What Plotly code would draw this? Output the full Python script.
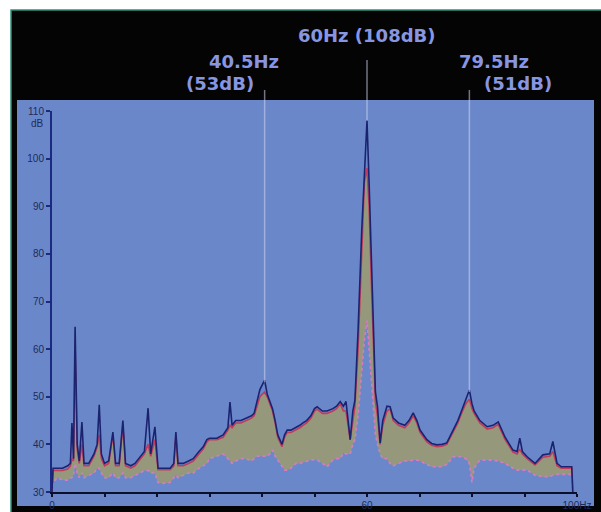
import plotly.graph_objects as go

# ---- data ----
freq_hz = [0.0, 0.2, 1.0, 2.0, 3.0, 3.5, 3.8, 4.1, 4.4, 4.8, 5.2, 5.7, 6.1, 7.0, 8.0, 8.6, 9.0, 9.4,
           10.0, 10.8, 11.6, 12.1, 12.8, 13.5, 14.0, 15.0, 15.8, 16.8, 17.6, 18.3, 18.8, 19.6, 20.2,
           21.0, 22.5, 23.2, 23.6, 24.0, 25.0, 26.0, 26.9, 28.0, 28.8, 29.5, 30.0, 31.4, 32.6, 33.5,
           33.9, 34.3, 35.0, 36.0, 37.0, 38.0, 38.5, 39.0, 39.6, 40.5, 41.0, 41.5, 42.0, 42.5, 43.0,
           43.4, 43.8, 44.3, 44.8, 45.5, 46.5, 47.2, 47.8, 48.5, 49.3, 50.0, 50.5, 51.5, 52.4, 53.5,
           54.2, 54.9, 55.5, 56.0, 56.8, 57.3, 57.7, 58.3, 59.0, 59.5, 60.0, 60.4, 60.8, 61.2, 61.6,
           62.0, 62.5, 63.0, 63.8, 64.4, 65.0, 66.0, 67.2, 68.0, 68.8, 69.5, 70.1, 71.4, 72.3, 73.3,
           74.3, 75.2, 76.4, 77.3, 78.0, 78.8, 79.5, 80.0, 80.4, 81.5, 82.9, 84.0, 85.0, 86.3, 87.8,
           88.6, 89.1, 89.6, 90.5, 92.0, 93.5, 94.8, 95.4, 96.2, 97.0, 99.0, 99.2]

peak_hold_db = [30, 35, 35, 35, 35.5, 36, 44.5, 37, 64.7, 40, 36.5, 44.7, 36, 36, 38, 40, 48.3, 38,
                36, 36.5, 42.6, 36, 36, 45, 36, 35.5, 36, 37.5, 38.5, 47.6, 38, 43.7, 35,
                35, 35, 36, 42.6, 36, 36, 36.5, 37, 38.5, 39.5, 41, 41.3, 41.3, 42, 43.5,
                48.9, 44, 45, 45, 45.5, 46, 46.5, 48.5, 51.5, 53.5, 50.5, 49, 47.5, 45, 42,
                41, 40, 42, 43, 43, 43.5, 44, 44.5, 45, 46, 47.5, 47.9, 47, 47, 47.5,
                48, 49, 48, 49, 41, 47, 49.3, 64, 85, 98, 108, 95, 80, 66, 51,
                48, 40.3, 45, 48, 47.9, 45.5, 44.5, 44, 45, 46.6, 45, 43, 41, 40.2, 39.9,
                40, 40.3, 43, 45, 47, 49.5, 51.4, 48.5, 47, 45, 43.7, 44, 44.7, 41.5, 38.8,
                38.5, 41.3, 38.5, 37.4, 36, 37.8, 38, 40.6, 36, 35.3, 35.3, 30]

average_db = [30, 34.5, 34.5, 34.5, 34.8, 35.5, 37, 36.5, 60, 39, 36, 40, 35.5, 35.5, 37.5, 39.5, 42, 37,
              35.5, 36, 42, 35.5, 35.5, 44, 35.5, 35, 35.5, 37, 38, 40, 37.5, 41, 34.7,
              34.7, 34.7, 35.5, 42, 35.5, 35.5, 36, 36.5, 38, 39, 40.5, 41, 41, 41.5, 43,
              44, 43.5, 44.5, 44.5, 45, 45.5, 46, 48, 50, 51, 50, 48.5, 47, 44.5, 41.5,
              40.5, 39.5, 41.5, 42.5, 42.5, 43, 43.5, 44, 44.5, 45.5, 47, 47.4, 46.5, 46.5, 47,
              47.5, 48.5, 47, 47, 41, 45, 48, 60, 80, 95, 98, 90, 75, 62, 49,
              46, 40, 44, 47, 47.4, 45, 44, 43.5, 44.5, 46, 44.5, 42.5, 40.5, 39.8, 39.5,
              39.6, 40, 42.5, 44.5, 46.5, 48.5, 49.5, 47.5, 46.5, 44.5, 43.2, 43.5, 44.2, 41, 38.4,
              38, 39, 38, 37, 35.7, 37.3, 37.5, 38.5, 35.5, 35, 35, 30]

minimum_db = [30, 32, 33, 32.5, 32.5, 33, 33, 33.5, 36, 34, 33, 34, 33, 33.5, 34, 35, 35, 34,
              33, 33, 34, 33, 33, 34, 33, 33, 33.5, 34, 34.5, 34.5, 34, 34, 32,
              31.8, 32, 33, 33.5, 33, 33.5, 34, 34, 35, 35.5, 36, 37, 37.5, 38, 37,
              36.5, 36, 36.5, 37, 37, 36.5, 37, 37.5, 37.5, 37.5, 37.5, 38, 38.8, 37.5, 36.7,
              35.8, 35.3, 34.6, 34.6, 35, 36, 36, 36.2, 36.5, 36.7, 36.8, 36.7, 36, 35.3, 36.7,
              37, 37, 38.2, 38, 38, 40, 41, 46, 55, 62, 66, 60, 52, 46, 42,
              40, 38, 37, 37, 36, 35.5, 36, 36.5, 36.5, 36.7, 36.7, 36.5, 35.8, 35.3, 35.3,
              35.3, 35.8, 37.4, 37.4, 37.4, 37, 36, 32, 35, 36.7, 36.7, 36.7, 36.5, 36, 35,
              34.6, 34.6, 34.6, 34.6, 33.5, 33.2, 33.2, 33.5, 33.7, 33.7, 33.7, 30]

x_tick_vals = [0, 10, 20, 30, 40, 50, 60, 70, 80, 90, 100]
x_tick_text = ["0", "", "", "", "", "", "60", "", "", "", "100Hz"]
y_tick_vals = [30, 40, 50, 60, 70, 80, 90, 100, 110]
y_tick_text = ["30", "40", "50", "60", "70", "80", "90", "100", "110"]

marker_freqs = [40.5, 60.0, 79.5]
marker_levels = [53, 108, 51]

Y_MIN, Y_MAX = 30, 110
X_MIN, X_MAX = 0, 100

# ---- figure ----
W, H = 601, 512
ML, MR, MT, MB = 52, 24, 111, 20
PW, PH = W - ML - MR, H - MT - MB


def px_x(p):  # pixel x -> paper x
    return (p - ML) / PW


def px_y(p):  # pixel y -> paper y
    return (H - MB - p) / PH


fig = go.Figure()

fig.add_trace(go.Scatter(x=freq_hz, y=minimum_db, mode="lines",
                         line=dict(color="#d67cc4", width=1.6, dash="dot"),
                         hoverinfo="skip", showlegend=False))
fig.add_trace(go.Scatter(x=freq_hz, y=average_db, mode="lines",
                         line=dict(color="#c23a5c", width=1.6),
                         fill="tonexty", fillcolor="rgba(158,155,110,0.85)",
                         hoverinfo="skip", showlegend=False))
fig.add_trace(go.Scatter(x=freq_hz, y=peak_hold_db, mode="lines",
                         line=dict(color="#1b2370", width=1.6),
                         hoverinfo="skip", showlegend=False))

shapes = [
    # black frame
    dict(type="rect", xref="paper", yref="paper", layer="below",
         x0=px_x(11), x1=px_x(606), y0=px_y(520), y1=px_y(10),
         fillcolor="#040404", line=dict(color="#2f8f7a", width=1.5)),
    # blue chart panel
    dict(type="rect", xref="paper", yref="paper", layer="below",
         x0=px_x(17), x1=px_x(594), y0=px_y(506), y1=px_y(100),
         fillcolor="#6a88c9", line=dict(width=0)),
]

# marker lines from labels down to the data points
label_bottoms = [90, 60, 90]
for f, lvl, top in zip(marker_freqs, marker_levels, label_bottoms):
    shapes.append(dict(type="line", xref="x", yref="paper",
                       x0=f, x1=f, y0=(lvl - Y_MIN) / (Y_MAX - Y_MIN), y1=px_y(top),
                       line=dict(color="rgba(205,212,240,0.55)", width=1.5)))

label_font = dict(family="DejaVu Sans, sans-serif", size=18, color="#8896e2")
annotations = [
    dict(text="<b>60Hz (108dB)</b>", x=marker_freqs[1], y=px_y(36), xref="x", yref="paper",
         xanchor="center", yanchor="middle", showarrow=False, font=label_font),
    dict(text="<b>40.5Hz</b>", x=px_x(281), y=px_y(61), xref="paper", yref="paper",
         xanchor="right", yanchor="middle", showarrow=False, font=label_font),
    dict(text="<b>(53dB)</b>", x=px_x(256), y=px_y(84), xref="paper", yref="paper",
         xanchor="right", yanchor="middle", showarrow=False, font=label_font),
    dict(text="<b>79.5Hz</b>", x=px_x(457), y=px_y(61), xref="paper", yref="paper",
         xanchor="left", yanchor="middle", showarrow=False, font=label_font),
    dict(text="<b>(51dB)</b>", x=px_x(482), y=px_y(84), xref="paper", yref="paper",
         xanchor="left", yanchor="middle", showarrow=False, font=label_font),
    dict(text="dB", x=px_x(46), y=px_y(123), xref="paper", yref="paper",
         xanchor="right", yanchor="middle", showarrow=False,
         font=dict(family="Liberation Sans, Arial, sans-serif", size=10, color="#1f2a5c")),
]

tick_font = dict(family="Liberation Sans, Arial, sans-serif", size=10, color="#1f2a5c")

fig.update_layout(
    width=W, height=H,
    margin=dict(l=ML, r=MR, t=MT, b=MB, pad=0),
    paper_bgcolor="#ffffff",
    plot_bgcolor="rgba(0,0,0,0)",
    shapes=shapes,
    annotations=annotations,
    showlegend=False,
    xaxis=dict(range=[X_MIN, X_MAX], tickvals=x_tick_vals, ticktext=x_tick_text,
               showgrid=False, zeroline=False, showline=True, linecolor="#0a0f2a", linewidth=2,
               ticks="outside", ticklen=3, tickwidth=2, tickcolor="#0a0f2a",
               tickfont=tick_font, automargin=False, fixedrange=True),
    yaxis=dict(range=[Y_MIN, Y_MAX], tickvals=y_tick_vals, ticktext=y_tick_text,
               showgrid=False, zeroline=False, showline=True, linecolor="#1b2a80", linewidth=2,
               ticks="outside", ticklen=4, tickwidth=1.5, tickcolor="#1b2a80",
               tickfont=tick_font, automargin=False, fixedrange=True),
)

fig.write_html("out.html", config={"displayModeBar": False},
               post_script="document.body.style.margin='0';document.body.style.overflow='hidden';")
